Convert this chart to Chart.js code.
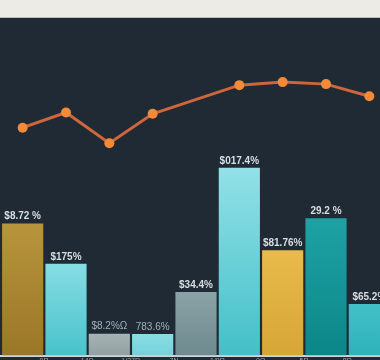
<!DOCTYPE html>
<html lang="en">
<head>
<meta charset="UTF-8" />
<title>Bars with line overlay</title>
<script src="https://cdn.jsdelivr.net/npm/chart.js"></script>
<style>
  html, body { margin: 0; padding: 0; }
  body { width: 380px; height: 360px; overflow: hidden; background: #edebe6; position: relative; }
  .band-line { position: absolute; left: 0; top: 17px; width: 380px; height: 1px; background: #b9bec2; }
  .chart-card { position: absolute; left: -4px; top: 18px; width: 400px; height: 348px; background: #1f2a35; }
</style>
</head>
<body>
<div class="band-line"></div>
<div class="chart-card"><canvas id="mixChart"></canvas></div>
<script>
// chart data
const categories = ['', '0R', '14Ω', '1/27R', '7N', '1/8R', '0Q', '5R', '8R'];
const barValues = [39.1, 27.2, 6.5, 6.4, 18.8, 55.6, 31.2, 40.7, 15.3];
const barLabels = ['$8.72 %', '$175%', '$8.2%Ω', '783.6%', '$34.4%', '$017.4%', '$81.76%', '29.2 %', '$65.2%'];
const lineValues = [67.5, 72.0, 62.9, 71.6, null, 80.1, 81.0, 80.4, 76.8];

// bar colours (top / bottom of each bar)
const topColors = ['#b8953c', '#86dde3', '#a6b2b4', '#8adde4', '#8aa3a7', '#92e1e7', '#e8bb4a', '#1ea2a4', '#42c0c7'];
const bottomColors = ['#9a7628', '#48c2ca', '#93a0a2', '#74d2da', '#6e8a8e', '#44bfc7', '#d6a636', '#0c8688', '#2fb2ba'];
const labelColors = ['#d8dee1', '#d8dee1', '#a3b2b6', '#a3b2b6', '#d8dee1', '#d8dee1', '#d8dee1', '#d8dee1', '#d8dee1'];

function barGradient(ctx) {
  const chart = ctx.chart;
  const i = ctx.dataIndex;
  const area = chart.chartArea;
  if (!area || ctx.raw == null) return topColors[i];
  const yTop = chart.scales.y.getPixelForValue(ctx.raw);
  const g = chart.ctx.createLinearGradient(0, yTop, 0, area.bottom);
  g.addColorStop(0, topColors[i]);
  g.addColorStop(1, bottomColors[i]);
  return g;
}

// value labels above the bars
const barLabelPlugin = {
  id: 'barLabels',
  afterDatasetsDraw(chart) {
    const meta = chart.getDatasetMeta(1);
    const ctx = chart.ctx;
    ctx.save();
    ctx.textAlign = 'center';
    ctx.textBaseline = 'bottom';
    meta.data.forEach((bar, i) => {
      const soft = labelColors[i] !== '#d8dee1';
      ctx.font = (soft ? '' : 'bold ') + '10px "Liberation Sans", Arial, sans-serif';
      ctx.fillStyle = labelColors[i];
      ctx.fillText(barLabels[i], bar.x, bar.y - 2);
    });
    ctx.restore();
  }
};

new Chart(document.getElementById('mixChart'), {
  data: {
    labels: categories,
    datasets: [
      {
        type: 'line',
        data: lineValues,
        order: 0,
        borderColor: '#cc663c',
        borderWidth: 3,
        pointRadius: 5,
        pointBackgroundColor: '#f38a3a',
        pointBorderWidth: 0,
        tension: 0,
        spanGaps: true
      },
      {
        type: 'bar',
        data: barValues,
        order: 1,
        backgroundColor: barGradient,
        borderWidth: 0,
        categoryPercentage: 1,
        barPercentage: 0.95
      }
    ]
  },
  options: {
    responsive: true,
    maintainAspectRatio: false,
    animation: false,
    layout: { padding: 0 },
    plugins: { legend: { display: false }, tooltip: { enabled: false } },
    scales: {
      x: {
        grid: { display: false, drawTicks: false },
        border: { display: true, color: '#cdd5d9', width: 2 },
        ticks: {
          color: '#9aa6ad',
          font: { size: 7, family: '"Liberation Sans", Arial, sans-serif' },
          padding: 1,
          labelOffset: -22,
          autoSkip: false,
          maxRotation: 0
        }
      },
      y: {
        display: false,
        min: 0,
        max: 98.5
      }
    }
  },
  plugins: [barLabelPlugin]
});
</script>
</body>
</html>
